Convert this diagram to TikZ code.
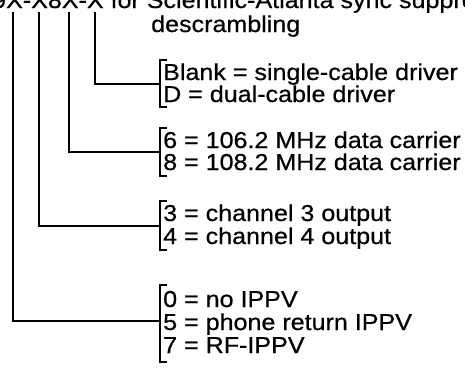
\documentclass[tikz,border=0pt]{standalone}
\usepackage{fontspec}
\newfontfamily\legendfont{Liberation Sans}[FakeStretch=1.09, FakeBold=0.6]
\usetikzlibrary{positioning}

\tikzset{
  lead/.style={line width=1.9pt, line cap=rect},
  brace/.style={line width=1.9pt},
  entry/.style={anchor=base west, inner sep=0pt, font=\legendfont\fontsize{23}{24}\selectfont},
}

\begin{document}
\begin{tikzpicture}[x=1pt, y=-1pt]
\clip (0,0) rectangle (465,376);
\useasboundingbox (0,0) rectangle (465,376);

% Heading (cut off at the top)
\node[entry] (head) at (-8,8) {9X-X8X-X for Scientific-Atlanta sync suppression};
\node[entry] (head2) at (151,32) {descrambling};

% Top ends of the leads
\coordinate (top1) at (13,13);
\coordinate (top2) at (39,13);
\coordinate (top3) at (69,13);
\coordinate (top4) at (95,13);

% Group 1: cable driver
\draw[brace] (167,60) -- (160,60) -- (160,107) -- (167,107);
\coordinate (brk1) at (160,84);
\node[entry] (blank) at (163,80) {Blank = single-cable driver};
\node[entry] (dual) at (163,102) {D = dual-cable driver};

% Group 2: data carrier
\draw[brace] (167,128) -- (160,128) -- (160,176) -- (167,176);
\coordinate (brk2) at (160,152);
\node[entry] (c106) at (163,148) {6 = 106.2 MHz data carrier};
\node[entry] (c108) at (163,170) {8 = 108.2 MHz data carrier};

% Group 3: output channel
\draw[brace] (167,201) -- (160,201) -- (160,250) -- (167,250);
\coordinate (brk3) at (160,226);
\node[entry] (ch3) at (163,221) {3 = channel 3 output};
\node[entry] (ch4) at (163,244) {4 = channel 4 output};

% Group 4: IPPV
\draw[brace] (167,285) -- (160,285) -- (160,362) -- (167,362);
\coordinate (brk4) at (160,321);
\node[entry] (ippv0) at (163,307) {0 = no IPPV};
\node[entry] (ippv5) at (163,330) {5 = phone return IPPV};
\node[entry] (ippv7) at (163,353) {7 = RF-IPPV};

% Leads
\draw[lead] (top4) |- (brk1);
\draw[lead] (top3) |- (brk2);
\draw[lead] (top2) |- (brk3);
\draw[lead] (top1) |- (brk4);

\end{tikzpicture}
\end{document}
